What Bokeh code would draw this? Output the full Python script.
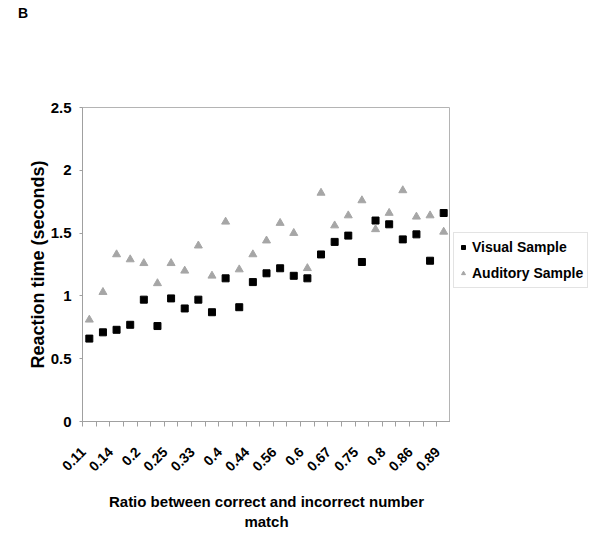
import math
from bokeh.plotting import figure
from bokeh.layouts import row, column
from bokeh.models import (Range1d, FixedTicker, NumeralTickFormatter, Legend,
                          LegendItem, ColumnDataSource, Div)
from bokeh.embed import file_html
from bokeh.resources import INLINE

ratio_labels = ["0.11", "0.13", "0.14", "0.17", "0.2", "0.22", "0.25", "0.29",
                "0.33", "0.38", "0.4", "0.43", "0.44", "0.5", "0.56", "0.57",
                "0.6", "0.63", "0.67", "0.71", "0.75", "0.78", "0.8", "0.83",
                "0.86", "0.88", "0.89"]
visual_rt = [0.66, 0.71, 0.73, 0.77, 0.97, 0.76, 0.98, 0.90, 0.97, 0.87,
             1.14, 0.91, 1.11, 1.18, 1.22, 1.16, 1.14, 1.33, 1.43, 1.48,
             1.27, 1.60, 1.57, 1.45, 1.49, 1.28, 1.66]
auditory_rt = [0.81, 1.03, 1.33, 1.29, 1.26, 1.10, 1.26, 1.20, 1.40, 1.16,
               1.59, 1.21, 1.33, 1.44, 1.58, 1.50, 1.22, 1.82, 1.56, 1.64,
               1.76, 1.53, 1.66, 1.84, 1.63, 1.64, 1.51]
y_ticks = [0, 0.5, 1, 1.5, 2, 2.5]

idx = list(range(len(ratio_labels)))
src = ColumnDataSource(dict(x=idx, v=visual_rt, a=auditory_rt))

FONT = "Liberation Sans"
TRI_GREY = "#a6a6a6"

panel_label = Div(text="B", width=100, height=20, margin=(5, 0, 0, 18),
                  styles={"font-family": FONT, "font-weight": "bold",
                          "font-size": "14px", "color": "black",
                          "line-height": "16px"})

p = figure(frame_width=368, frame_height=314, output_backend="svg",
           toolbar_location=None, x_range=Range1d(-0.5, len(idx) - 0.5),
           y_range=Range1d(0, 2.5), min_border_left=82, min_border_top=82,
           min_border_right=0, min_border_bottom=111)
p.grid.visible = False
p.outline_line_color = "#b4b4b4"
p.background_fill_color = "white"
p.border_fill_color = "white"

p.scatter("x", "v", source=src, marker="square", size=7,
          fill_color="black", line_color="black")
p.scatter("x", "a", source=src, marker="triangle", size=8,
          fill_color=TRI_GREY, line_color=TRI_GREY)

# x axis: boundary tick marks (minor) + labels for every second ratio
label_pos = [round(i - 0.45, 2) for i in idx[::2]]
xa = p.xaxis[0]
xa.ticker = FixedTicker(ticks=label_pos,
                        minor_ticks=[i - 0.5 for i in range(len(idx) + 1)])
xa.major_label_overrides = {pos: ratio_labels[i]
                            for pos, i in zip(label_pos, idx[::2])}
xa.major_tick_out = 0
xa.major_tick_in = 0
xa.minor_tick_out = 5
xa.minor_tick_in = 0
xa.minor_tick_line_color = "#a0a0a0"
xa.axis_line_color = "#a0a0a0"
xa.major_label_orientation = math.pi / 4
xa.major_label_text_font = FONT
xa.major_label_text_font_style = "bold"
xa.major_label_text_font_size = "14px"
xa.major_label_text_color = "black"
xa.major_label_standoff = 23
xa.axis_label = "Ratio between correct and incorrect number\nmatch"
xa.axis_label_text_font = FONT
xa.axis_label_text_font_style = "bold"
xa.axis_label_text_font_size = "15px"
xa.axis_label_text_color = "black"
xa.axis_label_standoff = 14

# y axis
ya = p.yaxis[0]
ya.ticker = FixedTicker(ticks=y_ticks)
ya.formatter = NumeralTickFormatter(format="0.[0]")
ya.minor_tick_line_color = None
ya.major_tick_out = 3
ya.major_tick_in = 0
ya.major_tick_line_color = "#a0a0a0"
ya.axis_line_color = "#a0a0a0"
ya.major_label_text_font = FONT
ya.major_label_text_font_style = "bold"
ya.major_label_text_font_size = "15px"
ya.major_label_text_color = "black"
ya.major_label_standoff = 8
ya.axis_label = "Reaction time (seconds)"
ya.axis_label_text_font = FONT
ya.axis_label_text_font_style = "bold"
ya.axis_label_text_font_size = "18px"
ya.axis_label_text_color = "black"
ya.axis_label_standoff = 0

# legend panel: same series drawn outside of its view, only the legend shows
lg = figure(width=147, height=507, output_backend="svg", toolbar_location=None,
            x_range=Range1d(1000, 1001), y_range=Range1d(1000, 1001),
            min_border=0)
lg.axis.visible = False
lg.grid.visible = False
lg.outline_line_color = None
lg_v = lg.scatter("x", "v", source=src, marker="square", size=7,
                  fill_color="black", line_color="black")
lg_a = lg.scatter("x", "a", source=src, marker="triangle", size=8,
                  fill_color=TRI_GREY, line_color=TRI_GREY)
legend = Legend(items=[LegendItem(label="Visual Sample", renderers=[lg_v]),
                       LegendItem(label="Auditory Sample", renderers=[lg_a])],
                location=(3, 132), margin=0, padding=4, spacing=6,
                glyph_width=10, glyph_height=20, label_height=20,
                label_standoff=4, border_line_color="#c8c8c8",
                label_text_font=FONT, label_text_font_style="bold",
                label_text_font_size="14px", label_text_color="black")
lg.add_layout(legend)

layout = column(panel_label, row(p, lg))
open("out.html", "w").write(file_html(layout, INLINE))
